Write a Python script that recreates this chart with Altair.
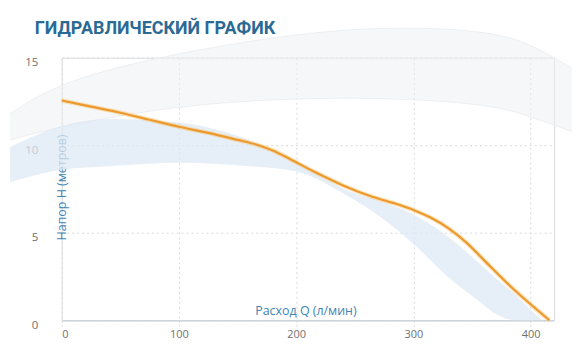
import altair as alt
import pandas as pd

# Pump performance curve (orange)
q_curve = [0, 25, 50, 75, 100, 125, 150, 165, 180, 195, 215, 240, 265, 285, 300, 315, 330, 345, 360, 385, 416]
h_curve = [12.55, 12.2, 11.85, 11.45, 11.05, 10.7, 10.3, 10.05, 9.7, 9.2, 8.5, 7.7, 7.05, 6.65, 6.3, 5.85, 5.25, 4.45, 3.45, 1.8, 0.0]

# Decorative grey fan behind the chart
q_fan = [-44, 0, 100, 202, 286, 371, 405, 435]
fan_top = [11.8, 13.7, 15.3, 16.4, 16.8, 16.5, 15.6, 14.4]
fan_bottom = [10.3, 11.1, 12.3, 12.7, 12.7, 12.3, 11.5, 10.8]

# Decorative light-blue band
q_band = [-44, 0, 40, 100, 160, 200, 244, 272, 301, 329, 352, 372, 388, 397, 410]
band_top = [9.9, 11.1, 11.5, 11.3, 10.3, 9.1, 7.4, 6.8, 6.0, 4.8, 3.5, 2.3, 1.4, 0.8, 0.0]
band_bottom = [7.9, 8.6, 8.8, 9.0, 8.8, 8.5, 7.1, 5.9, 4.3, 2.5, 1.3, 0.3, 0.0, 0.0, 0.0]

x_ticks = [0, 100, 200, 300, 400]
y_ticks = [0, 5, 10, 15]
chart_title = "ГИДРАВЛИЧЕСКИЙ ГРАФИК"

curve_df = pd.DataFrame({"q": q_curve, "h": h_curve})
fan_df = pd.DataFrame({"q": q_fan, "top": fan_top, "bottom": fan_bottom})
band_df = pd.DataFrame({"q": q_band, "top": band_top, "bottom": band_bottom})

x_scale = alt.Scale(domain=[0, 420], nice=False, zero=False)
y_scale = alt.Scale(domain=[0, 15], nice=False, zero=False)

x_axis = alt.Axis(
    values=x_ticks, grid=True, gridDash=[2, 3], gridColor="#d6dbe0",
    domainColor="#cfd5da", domainWidth=1.5, ticks=True, tickColor="#d6dbe0",
    tickDash=[2, 2], tickSize=6, labelFont="Open Sans", labelFontSize=11,
    labelColor="#707070", labelPadding=2,
    title="Расход Q (л/мин)", titleX=245, titleY=-6, titleFont="Open Sans",
    titleFontSize=12.5, titleFontWeight="normal", titleColor="#3f86b6",
    titleAlign="center", titleBaseline="alphabetic",
)
y_axis = alt.Axis(
    values=y_ticks, grid=True, gridDash=[2, 3], gridColor="#d6dbe0",
    domain=False, ticks=False, labelFont="Open Sans", labelFontSize=11.5,
    labelColor="#707070", labelPadding=24, labelOffset=5,
    title="Напор H (метров)", titleAngle=270, titleX=4, titleY=130,
    titleFont="Open Sans", titleFontSize=12.5, titleFontWeight="normal",
    titleColor="#3f86b6", titleAlign="center", titleBaseline="alphabetic",
)

fan_area = alt.Chart(fan_df).mark_area(
    interpolate="basis", color="#eef0f2", opacity=0.5
).encode(
    x=alt.X("q:Q", scale=x_scale, axis=x_axis),
    y=alt.Y("top:Q", scale=y_scale, axis=y_axis),
    y2="bottom:Q",
)
fan_top_line = alt.Chart(fan_df).mark_line(
    interpolate="basis", color="#eceef1", strokeWidth=1
).encode(x="q:Q", y="top:Q")
fan_bottom_line = alt.Chart(fan_df).mark_line(
    interpolate="basis", color="#eceef1", strokeWidth=1
).encode(x="q:Q", y="bottom:Q")

band_area = alt.Chart(band_df).mark_area(
    interpolate="monotone", color="#dde8f4", opacity=0.75
).encode(
    x="q:Q",
    y="top:Q",
    y2="bottom:Q",
)

halo = alt.Chart(curve_df).mark_line(
    interpolate="catmull-rom", color="#f7c77a", strokeWidth=4.5, opacity=0.5
).encode(x="q:Q", y="h:Q")
line = alt.Chart(curve_df).mark_line(
    interpolate="catmull-rom", color="#ec9a2e", strokeWidth=2.2
).encode(x="q:Q", y="h:Q")

title_text = alt.Chart(pd.DataFrame({"t": [chart_title]})).mark_text(
    align="left", baseline="alphabetic", font="Roboto", fontSize=18,
    fontWeight="bold", color="#2b6a94",
).encode(x=alt.value(-27), y=alt.value(-24), text="t:N")

chart = alt.layer(
    fan_area, fan_top_line, fan_bottom_line, band_area, halo, line, title_text
).properties(
    width=495,
    height=264,
    autosize="none",
    padding={"left": 54, "top": 49, "right": 18, "bottom": 30},
).configure_view(stroke=None).configure(background="white")

chart.save("out.html", embed_options={"renderer": "svg", "actions": False})
